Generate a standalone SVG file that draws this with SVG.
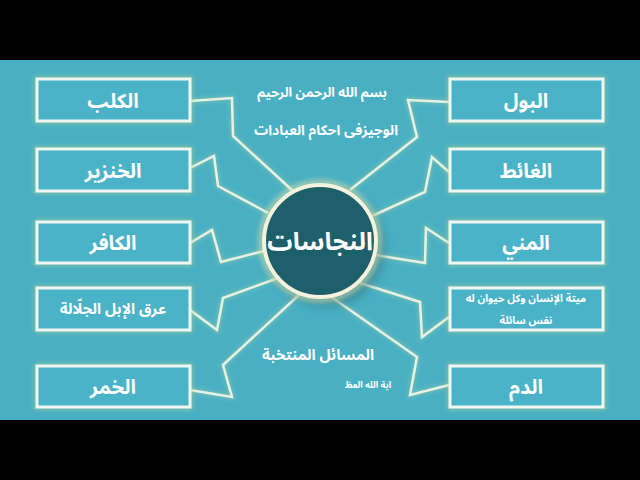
<svg xmlns="http://www.w3.org/2000/svg" width="640" height="480" viewBox="0 0 640 480">
<defs>
<style>
.box{fill:#4ab3c7;stroke:#eef7f0;stroke-width:3}
.glow{fill:none;stroke:#b5cf8a;stroke-width:6;opacity:0.5;filter:url(#blur)}
.lbl{font-family:"Noto Sans Arabic","DejaVu Sans",sans-serif;font-weight:bold;fill:#ffffff;text-anchor:middle;direction:rtl}
.conn{fill:none;stroke:#e6f2e2;stroke-width:2.5;stroke-linejoin:miter}
.connglow{fill:none;stroke:#bcd49a;stroke-width:5;opacity:0.35;filter:url(#blur)}
</style>
<filter id="blur" x="-20%" y="-20%" width="140%" height="140%"><feGaussianBlur stdDeviation="2"/></filter>
<filter id="shadow" x="-40%" y="-40%" width="180%" height="180%"><feGaussianBlur stdDeviation="6"/></filter>
</defs>
<rect x="0" y="0" width="640" height="480" fill="#000000"/>
<rect x="0" y="60" width="640" height="360" fill="#49b0c4"/>

<g id="connectors">
<g class="connglow">
<polyline points="190,101 232,98 233,136 293,191"/>
<polyline points="190,168 214,156 218,186 268,213"/>
<polyline points="190,243 212,230 221,262 264,251"/>
<polyline points="190,310 217,330 223,298 278,278"/>
<polyline points="190,390 232,397 223,365 300,294"/>
<polyline points="449,102 408,100 417,137 350,190"/>
<polyline points="449,172 432,157 425,192 372,216"/>
<polyline points="449,243 426,228 425,263 375,255"/>
<polyline points="449,317 422,337 420,302 360,283"/>
<polyline points="449,385 410,395 417,357 330,296"/>
</g>
<g class="conn">
<polyline points="190,101 232,98 233,136 293,191"/>
<polyline points="190,168 214,156 218,186 268,213"/>
<polyline points="190,243 212,230 221,262 264,251"/>
<polyline points="190,310 217,330 223,298 278,278"/>
<polyline points="190,390 232,397 223,365 300,294"/>
<polyline points="449,102 408,100 417,137 350,190"/>
<polyline points="449,172 432,157 425,192 372,216"/>
<polyline points="449,243 426,228 425,263 375,255"/>
<polyline points="449,317 422,337 420,302 360,283"/>
<polyline points="449,385 410,395 417,357 330,296"/>
</g>
</g>

<g id="center">
<circle cx="326" cy="248" r="58" fill="#2d6f7c" opacity="0.6" filter="url(#shadow)"/>
<circle cx="320" cy="241" r="59" fill="none" stroke="#e0e3a8" stroke-width="6" opacity="0.5" filter="url(#blur)"/>
<circle cx="320" cy="241" r="56" fill="#1e5f6c" stroke="#f4f1dc" stroke-width="4"/>
<text class="lbl" x="320" y="250" font-size="25">النجاسات</text>
</g>

<g id="title">
<text class="lbl" x="322" y="97" font-size="13">بسم الله الرحمن الرحيم</text>
<text class="lbl" x="326" y="135" font-size="14">الوجيزفی احکام العبادات</text>
</g>
<g id="subtitle">
<text class="lbl" x="318" y="360" font-size="15">المسائل المنتخبة</text>
<text class="lbl" x="368" y="388" font-size="9">آية الله العظ</text>
</g>

<g id="n-kalb">
<rect class="glow" x="37" y="79" width="153" height="42"/>
<rect class="box" x="37" y="79" width="153" height="42"/>
<text class="lbl" x="113" y="108" font-size="20">الكلب</text>
</g>
<g id="n-khinzir">
<rect class="glow" x="37" y="149" width="153" height="42"/>
<rect class="box" x="37" y="149" width="153" height="42"/>
<text class="lbl" x="113" y="178" font-size="20">الخنزير</text>
</g>
<g id="n-kafir">
<rect class="glow" x="37" y="222" width="153" height="41"/>
<rect class="box" x="37" y="222" width="153" height="41"/>
<text class="lbl" x="113" y="250" font-size="20">الكافر</text>
</g>
<g id="n-araq">
<rect class="glow" x="37" y="288" width="153" height="42"/>
<rect class="box" x="37" y="288" width="153" height="42"/>
<text class="lbl" x="113" y="314" font-size="15">عرق الإبل الجلّالة</text>
</g>
<g id="n-khamr">
<rect class="glow" x="37" y="366" width="153" height="41"/>
<rect class="box" x="37" y="366" width="153" height="41"/>
<text class="lbl" x="113" y="394" font-size="20">الخمر</text>
</g>

<g id="n-bawl">
<rect class="glow" x="450" y="79" width="153" height="42"/>
<rect class="box" x="450" y="79" width="153" height="42"/>
<text class="lbl" x="526" y="108" font-size="20">البول</text>
</g>
<g id="n-ghait">
<rect class="glow" x="450" y="149" width="153" height="42"/>
<rect class="box" x="450" y="149" width="153" height="42"/>
<text class="lbl" x="526" y="178" font-size="20">الغائط</text>
</g>
<g id="n-mani">
<rect class="glow" x="450" y="222" width="153" height="41"/>
<rect class="box" x="450" y="222" width="153" height="41"/>
<text class="lbl" x="526" y="250" font-size="20">المني</text>
</g>
<g id="n-mayta">
<rect class="glow" x="450" y="288" width="153" height="42"/>
<rect class="box" x="450" y="288" width="153" height="42"/>
<text class="lbl" font-size="10.5"><tspan x="526" y="302">ميتة الإنسان وكل حيوان له</tspan><tspan x="526" y="324">نفس سائلة</tspan></text>
</g>
<g id="n-dam">
<rect class="glow" x="450" y="366" width="153" height="41"/>
<rect class="box" x="450" y="366" width="153" height="41"/>
<text class="lbl" x="526" y="394" font-size="20">الدم</text>
</g>
</svg>
